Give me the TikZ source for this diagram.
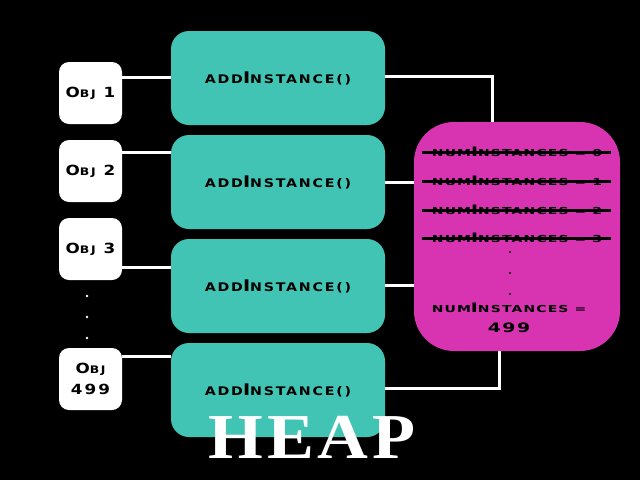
\documentclass[tikz,border=0pt]{standalone}
\usepackage{fontspec}
\newfontfamily\lblfont{DejaVu Sans}[FakeStretch=1.2, LetterSpace=15]
\newfontfamily\cntfont{DejaVu Sans}[FakeStretch=1.45, LetterSpace=12]
\newfontfamily\heapfont{Liberation Serif}[FakeStretch=1.1, LetterSpace=6]
\usetikzlibrary{positioning, calc}

\definecolor{addcol}{HTML}{41C4B3}
\definecolor{countcol}{HTML}{D834B2}

% smaller capitals, as in the small caps of the labels
\makeatletter
\newcommand{\lc}[1]{{\@tempdima=\f@size pt\@tempdima=0.74\@tempdima\fontsize{\the\@tempdima}{\the\@tempdima}\selectfont #1}}
\makeatother

\tikzset{
  objbox/.style={fill=white, rounded corners=10pt, minimum width=63pt, minimum height=62pt,
    inner sep=0pt, align=center, font=\lblfont\bfseries\fontsize{14}{21}\selectfont},
  addbox/.style={fill=addcol, rounded corners=18pt, minimum width=214pt, minimum height=94pt,
    font=\lblfont\bfseries\fontsize{16}{18}\selectfont},
  countbox/.style={fill=countcol, rounded corners=40pt, minimum width=206pt, minimum height=229pt},
  countline/.style={inner sep=0pt, align=center, font=\cntfont\bfseries\fontsize{13}{20}\selectfont},
  strike/.style={line width=3pt},
  link/.style={draw=white, line width=3pt},
  heaptxt/.style={text=white, font=\heapfont\bfseries\fontsize{64}{64}\selectfont}
}

\begin{document}
\begin{tikzpicture}[x=1pt,y=-1pt]
\fill[black] (0,0) rectangle (640,480);
\useasboundingbox (0,0) rectangle (640,480);

% objects
\node[objbox] (obj1) at (90.5,93) {O\lc{BJ} 1};
\node[objbox] (obj2) at (90.5,171) {O\lc{BJ} 2};
\node[objbox] (obj3) at (90.5,249) {O\lc{BJ} 3};
\node[objbox] (obj499) at (90.5,379) {O\lc{BJ}\\499};
\foreach \y in {296,317,338}
  \fill[white] (87,\y) circle (1.4pt);

% method calls
\node[addbox] (add1) at (278,78) {\lc{ADD}I\lc{NSTANCE()}};
\node[addbox] (add2) at (278,182) {\lc{ADD}I\lc{NSTANCE()}};
\node[addbox] (add3) at (278,286) {\lc{ADD}I\lc{NSTANCE()}};
\node[addbox] (add4) at (278,390) {\lc{ADD}I\lc{NSTANCE()}};

% shared counter
\node[countbox] (count) at (517,236.5) {};
\node[countline] (n0) at (517,152) {\lc{NUM}I\lc{NSTANCES = 0}};
\node[countline] (n1) at (517,181) {\lc{NUM}I\lc{NSTANCES = 1}};
\node[countline] (n2) at (517,210) {\lc{NUM}I\lc{NSTANCES = 2}};
\node[countline] (n3) at (517,238) {\lc{NUM}I\lc{NSTANCES = 3}};
\foreach \n in {n0,n1,n2,n3}
  \draw[strike] ([xshift=-10pt]\n.west) -- ([xshift=9pt]\n.east);
\foreach \y in {252,273,294}
  \fill[black] (510,\y) circle (1.2pt);
\node[countline] (nlast) at (509,318) {\lc{NUM}I\lc{NSTANCES =}\\499};

% connectors
\draw[link] (obj1.east |- 0,77) -- (add1.west |- 0,77);
\draw[link] (obj2.east |- 0,152) -- (add2.west |- 0,152);
\draw[link] (obj3.east |- 0,267) -- (add3.west |- 0,267);
\draw[link] (obj499.east |- 0,356) -- (add4.west |- 0,356);
\draw[link] (add1.east |- 0,76) -| ([xshift=-25pt]count.north);
\draw[link] (add2.east |- 0,182) -- (count.west |- 0,182);
\draw[link] (add3.east |- 0,285) -- (count.west |- 0,285);
\draw[link] (add4.east |- 0,388) -| ([xshift=-18pt]count.south);

\node[heaptxt] (heap) at (312,437) {HEAP};
\end{tikzpicture}
\end{document}
